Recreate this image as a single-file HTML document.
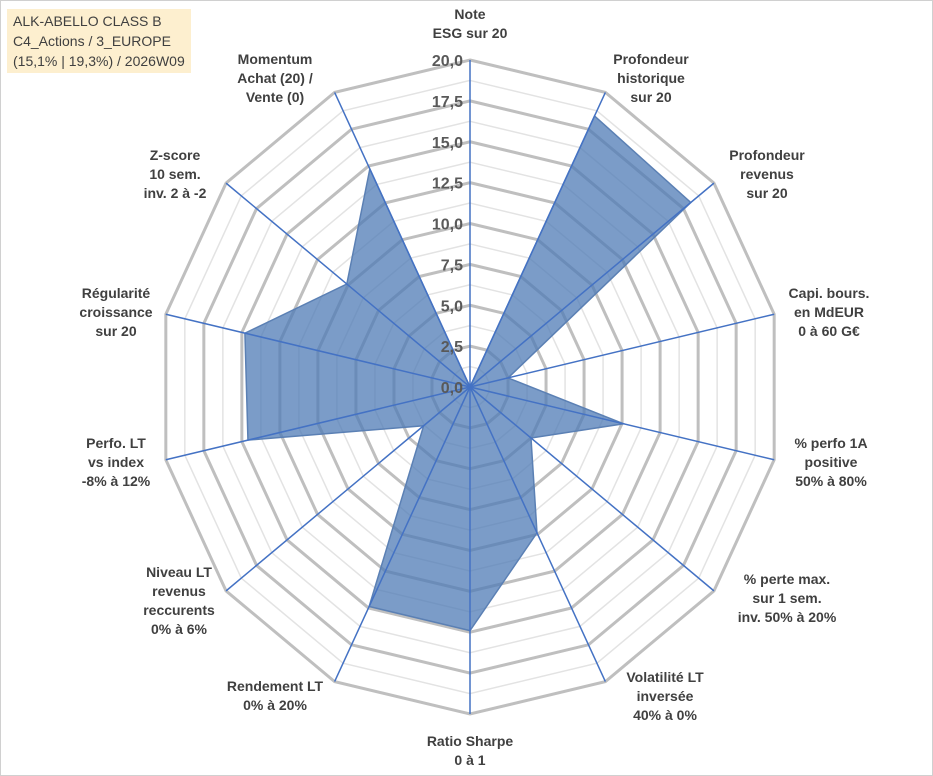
<!DOCTYPE html>
<html><head><meta charset="utf-8"><style>
body{margin:0;background:#fff;}
#wrap{position:relative;width:933px;height:776px;overflow:hidden;background:#fff;box-sizing:border-box;border:1px solid #d0d0d0;font-family:"Liberation Sans",sans-serif;}
.lbl{position:absolute;font-weight:bold;font-size:14px;color:#404040;text-align:center;line-height:19px;white-space:nowrap;transform:translate(-50%,0);}
#title{position:absolute;left:6px;top:8px;background:#fdefcf;color:#404040;font-size:14px;line-height:20px;padding:2px 6px;}
</style></head><body>
<div id="wrap">
<svg id="svg" width="933" height="776" style="position:absolute;left:0;top:0"></svg>
<div id="title">ALK-ABELLO CLASS B<br>C4_Actions / 3_EUROPE<br>(15,1% | 19,3%) / 2026W09</div>
<div class="lbl" style="left:469px;top:4px">Note<br>ESG sur 20</div>
<div class="lbl" style="left:650px;top:49px">Profondeur<br>historique<br>sur 20</div>
<div class="lbl" style="left:766px;top:145px">Profondeur<br>revenus<br>sur 20</div>
<div class="lbl" style="left:828px;top:283px">Capi. bours.<br>en MdEUR<br>0 à 60 G€</div>
<div class="lbl" style="left:830px;top:433px">% perfo 1A<br>positive<br>50% à 80%</div>
<div class="lbl" style="left:786px;top:569px">% perte max.<br>sur 1 sem.<br>inv. 50% à 20%</div>
<div class="lbl" style="left:664px;top:667px">Volatilité LT<br>inversée<br>40% à 0%</div>
<div class="lbl" style="left:469px;top:731px">Ratio Sharpe<br>0 à 1</div>
<div class="lbl" style="left:274px;top:676px">Rendement LT<br>0% à 20%</div>
<div class="lbl" style="left:178px;top:562px">Niveau LT<br>revenus<br>reccurents<br>0% à 6%</div>
<div class="lbl" style="left:115px;top:433px">Perfo. LT<br>vs index<br>-8% à 12%</div>
<div class="lbl" style="left:115px;top:283px">Régularité<br>croissance<br>sur 20</div>
<div class="lbl" style="left:174px;top:145px">Z-score<br>10 sem.<br>inv. 2 à -2</div>
<div class="lbl" style="left:274px;top:49px">Momentum<br>Achat (20) /<br>Vente (0)</div>
</div>
<script>
const categories=["Note ESG","Profondeur historique","Profondeur revenus","Capi","Perfo 1A","Perte max","Volatilité","Ratio Sharpe","Rendement LT","Niveau LT","Perfo LT","Régularité","Z-score","Momentum"];
const values=[0,18.4,18.1,2.5,10.1,5.0,9.9,14.9,14.9,3.8,14.6,14.8,10.1,14.8];
const tickLabels=["0,0","2,5","5,0","7,5","10,0","12,5","15,0","17,5","20,0"];
const tickValues=[0,2.5,5,7.5,10,12.5,15,17.5,20];
const maxV=20, cx=469, cy=386, RX=312, RY=327;
const svg=document.getElementById('svg');
const NS='http://www.w3.org/2000/svg';
const n=categories.length;
function pt(i,v){const a=2*Math.PI*i/n;const f=v/maxV;return [cx+f*RX*Math.sin(a),cy-f*RY*Math.cos(a)];}
function mk(t,attrs){const e=document.createElementNS(NS,t);for(const k in attrs)e.setAttribute(k,attrs[k]);svg.appendChild(e);return e;}
for(let v=1.25;v<maxV;v+=2.5){
 const p=mk('polygon',{points:categories.map((c,i)=>pt(i,v).join(',')).join(' '),fill:'none',stroke:'#e3e3e3','stroke-width':1.5});
 
 
}
tickValues.forEach(v=>{if(v===0)return;
 const p=mk('polygon',{points:categories.map((c,i)=>pt(i,v).join(',')).join(' '),fill:'none',stroke:'#bfbfbf','stroke-width':3});
 
 
});
const poly=mk('polygon',{points:values.map((v,i)=>pt(i,v).join(',')).join(' '),fill:'#4f7bb5','fill-opacity':0.75,stroke:'#5b80b4','stroke-width':1.5});


categories.forEach((c,i)=>{const [x,y]=pt(i,maxV);
 const l=mk('line',{x1:cx,y1:cy,x2:x,y2:y,stroke:'#4472c4','stroke-width':1.5});
 
 
});
tickValues.forEach((v,k)=>{const y=cy-v/maxV*RY;
 const t=mk('text',{x:cx-7,y:y+6,'text-anchor':'end','font-family':'Liberation Sans, sans-serif','font-size':16,'font-weight':'bold',fill:'#595959'});
 t.textContent=tickLabels[k];
 
 
});
</script>
</body></html>
